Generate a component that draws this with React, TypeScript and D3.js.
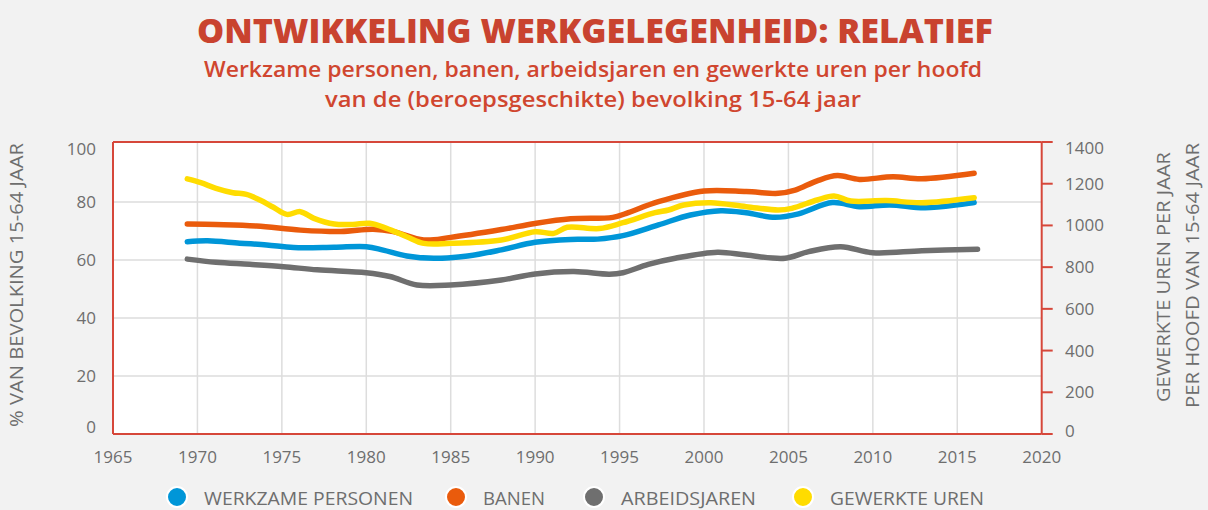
import React from "react";
import * as d3 from "d3";

const xTicks = [1965, 1970, 1975, 1980, 1985, 1990, 1995, 2000, 2005, 2010, 2015, 2020];
const leftTicks = [0, 20, 40, 60, 80, 100];
const rightTicks = [0, 200, 400, 600, 800, 1000, 1200, 1400];

const werkzameYears = [1969.4, 1970.6, 1972.5, 1974.1, 1975.7, 1978.1, 1980, 1981, 1982.4, 1984, 1986, 1988, 1990, 1992.1, 1993.7, 1995.2, 1997.3, 1999.2, 2001, 2002.5, 2004.2, 2005.6, 2007.6, 2009.2, 2011, 2013.1, 2016];
const werkzameValues = [66.3, 66.6, 65.8, 65.2, 64.3, 64.4, 64.6, 63.4, 61.4, 60.6, 61.4, 63.5, 66.1, 67.1, 67.2, 68.4, 72.1, 75.5, 77.0, 76.3, 74.7, 75.9, 79.8, 78.4, 79.0, 78.0, 79.8];

const banenYears = [1969.4, 1971.1, 1973.5, 1976.1, 1978.5, 1980.4, 1981.6, 1983.4, 1985, 1988, 1990, 1992.1, 1994.6, 1995.4, 1997.3, 2000, 2002.5, 2004.4, 2005.4, 2006.7, 2007.9, 2009.2, 2011.2, 2012.9, 2016];
const banenValues = [72.4, 72.2, 71.7, 70.3, 69.8, 70.6, 69.8, 66.9, 67.8, 70.5, 72.6, 74.2, 74.7, 76.1, 80.1, 83.8, 83.6, 83.0, 84.1, 87.3, 89.1, 87.8, 88.7, 88.0, 89.9];

const arbeidsjarenYears = [1969.4, 1971.1, 1973.1, 1975.1, 1977.1, 1980, 1981.4, 1983, 1985, 1988, 1990, 1992.3, 1994.4, 1995.2, 1996.7, 1998.3, 2000.8, 2002.5, 2004.8, 2006.2, 2008.1, 2010, 2012.9, 2016.2];
const arbeidsjarenValues = [60.3, 59.2, 58.5, 57.7, 56.6, 55.6, 54.3, 51.4, 51.4, 53.1, 55.2, 56.0, 55.1, 55.6, 58.5, 60.6, 62.7, 61.7, 60.6, 62.9, 64.6, 62.5, 63.2, 63.7];

const urenYears = [1969.4, 1970.2, 1971.1, 1972.1, 1972.9, 1973.7, 1974.5, 1975.3, 1976.1, 1976.9, 1978.1, 1979.2, 1980.2, 1981.2, 1982.4, 1983.4, 1985, 1988, 1990, 1991.1, 1991.9, 1993.8, 1995.2, 1997.1, 1997.9, 1998.8, 2000.4, 2002.5, 2004.4, 2005.2, 2006.7, 2007.7, 2008.7, 2010.8, 2012.9, 2016];
const urenValues = [1223, 1205, 1178, 1157, 1149, 1122, 1087, 1053, 1066, 1034, 1007, 1005, 1010, 986, 946, 914, 914, 930, 970, 962, 991, 985, 1013, 1061, 1074, 1098, 1109, 1090, 1074, 1082, 1122, 1141, 1117, 1119, 1109, 1133];

const legendLabels = ["WERKZAME PERSONEN", "BANEN", "ARBEIDSJAREN", "GEWERKTE UREN"];
const colors = ["#0096d8", "#ea5b0c", "#6f6f6f", "#ffdc00"];

const W = 1208, H = 510;
const left = 113, right = 1041.7, top = 142, bottom = 434;
const red = "#d6473a";
const gray = "#6e6e6e";
const font = "'Open Sans', 'Noto Sans', sans-serif";

export default function App() {
  const x = d3.scaleLinear().domain([1965, 2020]).range([left, right]);
  const yL = d3.scaleLinear().domain([0, 100]).range([bottom, 144]);
  const yR = d3.scaleLinear().domain([0, 1400]).range([bottom, top]);

  const mk = (ys: number[], vs: number[], sc: d3.ScaleLinear<number, number>) =>
    d3.line<number>().x((_, i) => x(ys[i])).y((v) => sc(v)).curve(d3.curveCatmullRom.alpha(0.5))(vs) || "";

  const series = [
    { d: mk(werkzameYears, werkzameValues, yL), c: colors[0] },
    { d: mk(banenYears, banenValues, yL), c: colors[1] },
    { d: mk(arbeidsjarenYears, arbeidsjarenValues, yL), c: colors[2] },
    { d: mk(urenYears, urenValues, yR), c: colors[3] },
  ];

  const legendX = [177, 456, 594, 803];
  const legendTextLen = [209, 62, 135, 154];

  return (
    <svg width={W} height={H} style={{ position: "absolute", left: 0, top: 0, background: "#f2f2f2" }}>
      <rect x={0} y={0} width={W} height={H} fill="#f2f2f2" />
      <text x={595} y={43} textAnchor="middle" fill="#c9432f" fontFamily={font} fontWeight={800} fontSize={34}
        textLength={796} lengthAdjust="spacingAndGlyphs">ONTWIKKELING WERKGELEGENHEID: RELATIEF</text>
      <text x={593} y={77} textAnchor="middle" fill="#d0462f" fontFamily={font} fontWeight={600} fontSize={21}
        textLength={778} lengthAdjust="spacingAndGlyphs">Werkzame personen, banen, arbeidsjaren en gewerkte uren per hoofd</text>
      <text x={593} y={107} textAnchor="middle" fill="#d0462f" fontFamily={font} fontWeight={600} fontSize={21}
        textLength={536} lengthAdjust="spacingAndGlyphs">van de (beroepsgeschikte) bevolking 15-64 jaar</text>

      <rect x={left} y={top} width={right - left} height={bottom - top} fill="#ffffff" />
      {xTicks.filter((t) => t > 1965 && t < 2020).map((t) => (
        <line key={"gx" + t} x1={x(t)} x2={x(t)} y1={top} y2={bottom} stroke="#dddddd" strokeWidth={1.5} />
      ))}
      {leftTicks.filter((t) => t > 0 && t < 100).map((t) => (
        <line key={"gy" + t} x1={left} x2={right} y1={yL(t)} y2={yL(t)} stroke="#dddddd" strokeWidth={1.5} />
      ))}

      {series.map((s, i) => (
        <path key={i} d={s.d} fill="none" stroke={s.c} strokeWidth={5.5} strokeLinecap="round" strokeLinejoin="round" />
      ))}

      <line x1={left} x2={right} y1={top} y2={top} stroke={red} strokeWidth={2} />
      <line x1={left} x2={right} y1={bottom} y2={bottom} stroke={red} strokeWidth={2} />
      <line x1={left} x2={left} y1={top} y2={bottom} stroke={red} strokeWidth={2} />
      <line x1={right} x2={right} y1={top} y2={bottom} stroke={red} strokeWidth={2} />
      {rightTicks.map((t) => (
        <line key={"rt" + t} x1={right} x2={right + 11} y1={yR(t)} y2={yR(t)} stroke={red} strokeWidth={2} />
      ))}

      {xTicks.map((t) => (
        <text key={"xl" + t} x={x(t)} y={463} textAnchor="middle" fill={gray} fontFamily={font} fontSize={17}>{t}</text>
      ))}
      {leftTicks.map((t) => (
        <text key={"ll" + t} x={96} y={Math.min(427, Math.max(149.5, yL(t)))} dy="0.35em" textAnchor="end" fill={gray}
          fontFamily={font} fontSize={17}>{t}</text>
      ))}
      {rightTicks.map((t) => (
        <text key={"rl" + t} x={1065} y={Math.min(431, Math.max(148, yR(t)))} dy="0.35em" textAnchor="start" fill={gray}
          fontFamily={font} fontSize={17}>{t}</text>
      ))}

      <text transform="translate(23,285) rotate(-90)" textAnchor="middle" fill={gray} fontFamily={font} fontSize={18}
        textLength={284} lengthAdjust="spacingAndGlyphs">% VAN BEVOLKING 15-64 JAAR</text>
      <text transform="translate(1170,277) rotate(-90)" textAnchor="middle" fill={gray} fontFamily={font} fontSize={18}
        textLength={250} lengthAdjust="spacingAndGlyphs">GEWERKTE UREN PER JAAR</text>
      <text transform="translate(1199,275.5) rotate(-90)" textAnchor="middle" fill={gray} fontFamily={font} fontSize={18}
        textLength={265} lengthAdjust="spacingAndGlyphs">PER HOOFD VAN 15-64 JAAR</text>

      {legendLabels.map((l, i) => (
        <g key={l}>
          <circle cx={legendX[i]} cy={497} r={10} fill={colors[i]} stroke="#ffffff" strokeWidth={2} />
          <text x={legendX[i] + 27} y={505} fill={gray} fontFamily={font} fontSize={19}
            textLength={legendTextLen[i]} lengthAdjust="spacingAndGlyphs">{l}</text>
        </g>
      ))}
    </svg>
  );
}
